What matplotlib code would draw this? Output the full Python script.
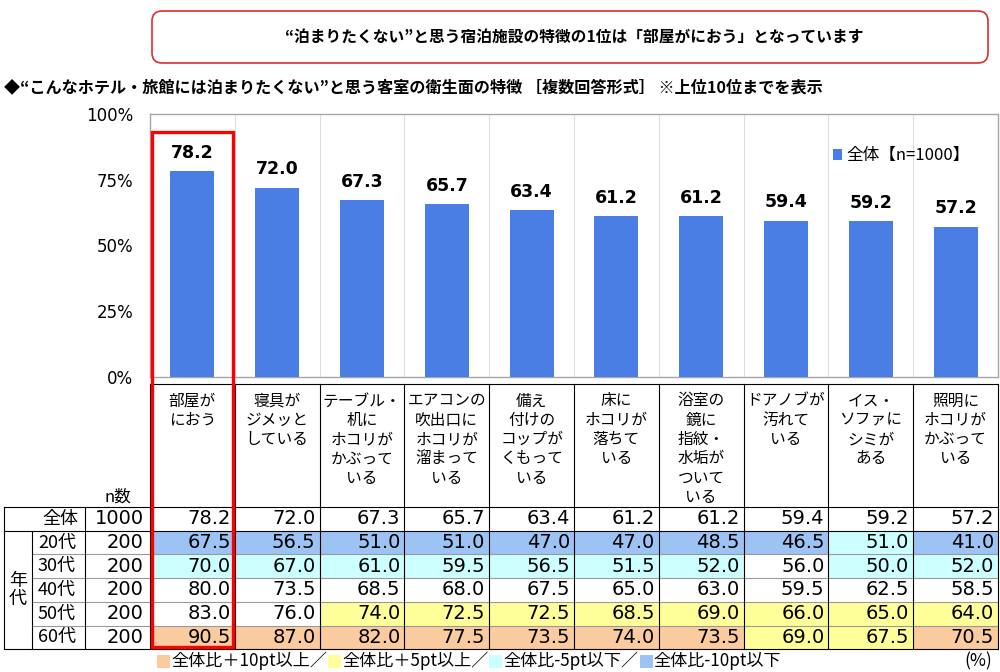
import matplotlib
matplotlib.use("Agg")
import matplotlib.pyplot as plt
from matplotlib.patches import Rectangle, FancyBboxPatch
import numpy as np

plt.rcParams['font.family'] = ['Noto Sans CJK JP', 'DejaVu Sans']

# data
categories = [
    ["部屋が", "におう"],
    ["寝具が", "ジメッと", "している"],
    ["テーブル・", "机に", "ホコリが", "かぶって", "いる"],
    ["エアコンの", "吹出口に", "ホコリが", "溜まって", "いる"],
    ["備え", "付けの", "コップが", "くもって", "いる"],
    ["床に", "ホコリが", "落ちて", "いる"],
    ["浴室の", "鏡に", "指紋・", "水垢が", "ついて", "いる"],
    ["ドアノブが", "汚れて", "いる"],
    ["イス・", "ソファに", "シミが", "ある"],
    ["照明に", "ホコリが", "かぶって", "いる"],
]
overall = [78.2, 72.0, 67.3, 65.7, 63.4, 61.2, 61.2, 59.4, 59.2, 57.2]
overall_n = 1000
age_labels = ["20代", "30代", "40代", "50代", "60代"]
age_n = [200, 200, 200, 200, 200]
age20 = [67.5, 56.5, 51.0, 51.0, 47.0, 47.0, 48.5, 46.5, 51.0, 41.0]
age30 = [70.0, 67.0, 61.0, 59.5, 56.5, 51.5, 52.0, 56.0, 50.0, 52.0]
age40 = [80.0, 73.5, 68.5, 68.0, 67.5, 65.0, 63.0, 59.5, 62.5, 58.5]
age50 = [83.0, 76.0, 74.0, 72.5, 72.5, 68.5, 69.0, 66.0, 65.0, 64.0]
age60 = [90.5, 87.0, 82.0, 77.5, 73.5, 74.0, 73.5, 69.0, 67.5, 70.5]
age_rows = [age20, age30, age40, age50, age60]

title = "“泊まりたくない”と思う宿泊施設の特徴の1位は「部屋がにおう」となっています"
subtitle = "◆“こんなホテル・旅館には泊まりたくない”と思う客室の衛生面の特徴 ［複数回答形式］ ※上位10位までを表示"
legend_items = ["全体比＋10pt以上／", "全体比＋5pt以上／", "全体比-5pt以下／", "全体比-10pt以下"]

BAR = "#4A7EE4"
ORANGE = "#F9CB9F"
YELLOW = "#FFFF99"
CYAN = "#CCFFFF"
BLUE = "#9CC3F4"
legend_colors = [ORANGE, YELLOW, CYAN, BLUE]


def cell_color(v, ref):
    d = round(v - ref, 1)
    if d >= 10:
        return ORANGE
    if d >= 5:
        return YELLOW
    if d <= -10:
        return BLUE
    if d <= -5:
        return CYAN
    return None


W, H = 1000, 672
fig = plt.figure(figsize=(10, 6.72), dpi=100)

# bar chart area (pixel layout)
px_left, px_right, px_top, px_bottom = 150, 998, 114, 377
ax = fig.add_axes([px_left / W, 1 - px_bottom / H, (px_right - px_left) / W, (px_bottom - px_top) / H])
x = np.arange(len(overall))
ax.bar(x, overall, width=0.52, color=BAR, label="全体【n=1000】", zorder=3)
for xi, v in zip(x, overall):
    ax.text(xi, v + 7, f"{v:.1f}", ha="center", va="center", fontsize=12.5,
            fontweight="bold", family="DejaVu Sans")
ax.set_xlim(-0.5, len(overall) - 0.5)
ax.set_ylim(0, 100)
ax.set_yticks([0, 25, 50, 75, 100])
ax.set_yticklabels([f"{t}%" for t in [0, 25, 50, 75, 100]], family="DejaVu Sans", fontsize=12)
ax.set_xticks([])
ax.tick_params(axis="y", length=0, pad=12)
for xb in np.arange(0.5, len(overall) - 0.5, 1):
    ax.axvline(xb, color="#DDDDDD", lw=0.8, zorder=1)
for s in ax.spines.values():
    s.set_color("#A6A6A6")
    s.set_linewidth(1.0)
leg = ax.legend(loc="upper right", bbox_to_anchor=(0.985, 0.93), frameon=False,
                fontsize=12, handlelength=0.55, handleheight=0.55, handletextpad=0.3)

# overlay in pixel coordinates for table, titles, etc.
ov = fig.add_axes([0, 0, 1, 1], zorder=5)
ov.set_xlim(0, W)
ov.set_ylim(H, 0)
ov.axis("off")

# title box
ov.add_patch(FancyBboxPatch((152, 11), 836, 52, boxstyle="round,pad=0,rounding_size=10",
                            fc="white", ec="#D9302C", lw=1.2))
ov.text(574, 37, title, ha="center", va="center", fontsize=11.3, fontweight="bold")
ov.text(4, 87, subtitle, ha="left", va="center", fontsize=11.6, fontweight="bold")

# table geometry
ncol = len(overall)
col_w = (px_right - px_left) / ncol
col_edges = [px_left + i * col_w for i in range(ncol + 1)]
head_top = 384
row_top = 507
row_h = 23.7
row_edges = [row_top + i * row_h for i in range(len(age_rows) + 2)]
tbl_left, x_age, x_n = 4, 32, 85

# category labels
for i, lines in enumerate(categories):
    cx = (col_edges[i] + col_edges[i + 1]) / 2
    for j, ln in enumerate(lines):
        ov.text(cx, 401 + j * 19.3, ln, ha="center", va="center", fontsize=11.3)
ov.plot([px_left, px_right], [head_top, head_top], color="black", lw=0.8)
for xe in col_edges:
    ov.plot([xe, xe], [head_top, row_top], color="black", lw=0.8)
ov.text(118, 497, "n数", ha="center", va="center", fontsize=12)

# cell fills
for r, vals in enumerate(age_rows):
    y0 = row_edges[r + 1]
    for i, v in enumerate(vals):
        c = cell_color(v, overall[i])
        if c:
            ov.add_patch(Rectangle((col_edges[i], y0), col_w, row_h, fc=c, ec="none", zorder=1))

num_font = dict(family="DejaVu Sans", fontsize=14, va="center", ha="right")
# overall row
yc = row_edges[0] + row_h / 2
ov.text(78, yc, "全体", ha="right", va="center", fontsize=13)
ov.text(x_n + 59, yc, str(overall_n), **num_font)
for i, v in enumerate(overall):
    ov.text(col_edges[i + 1] - 4, yc, f"{v:.1f}", **num_font)
# age rows
for r, (lab, n, vals) in enumerate(zip(age_labels, age_n, age_rows)):
    yc = row_edges[r + 1] + row_h / 2
    ov.text(38, yc, lab, ha="left", va="center", fontsize=13)
    ov.text(x_n + 59, yc, str(n), **num_font)
    for i, v in enumerate(vals):
        ov.text(col_edges[i + 1] - 4, yc, f"{v:.1f}", **num_font)
ov.text(18, (row_edges[1] + row_edges[-1]) / 2, "年\n代", ha="center", va="center",
        fontsize=13, linespacing=1.05)

# table lines
lw = 0.8
ov.plot([tbl_left, px_right], [row_edges[0]] * 2, color="black", lw=lw, zorder=3)
ov.plot([tbl_left, px_right], [row_edges[1]] * 2, color="black", lw=lw, zorder=3)
for ye in row_edges[2:-1]:
    ov.plot([x_age, px_right], [ye, ye], color="#999999", lw=lw, zorder=3)
ov.plot([tbl_left, px_right], [row_edges[-1]] * 2, color="black", lw=lw, zorder=3)
ov.plot([tbl_left, tbl_left], [row_edges[0], row_edges[-1]], color="black", lw=lw, zorder=3)
ov.plot([x_age, x_age], [row_edges[1], row_edges[-1]], color="black", lw=lw, zorder=3)
for xe in [x_n] + col_edges:
    ov.plot([xe, xe], [row_edges[0], row_edges[-1]], color="black", lw=lw, zorder=3)

# red highlight of the first item
ov.add_patch(Rectangle((col_edges[0] + 2, 132), col_w - 4, row_edges[-1] - 2 - 132,
                       fc="none", ec="#FF0000", lw=2.4, zorder=6))

# bottom legend
fig.canvas.draw()
renderer = fig.canvas.get_renderer()
cur = 157
ly = 661
for col, lab in zip(legend_colors, legend_items):
    ov.add_patch(Rectangle((cur, ly - 6.5), 13, 13, fc=col, ec="none"))
    t = ov.text(cur + 14, ly, lab, ha="left", va="center", fontsize=12.3)
    bb = t.get_window_extent(renderer)
    cur = bb.x1 + 1
ov.text(992, ly, "(%)", ha="right", va="center", fontsize=12.5)

fig.savefig("out.png", dpi=100)
